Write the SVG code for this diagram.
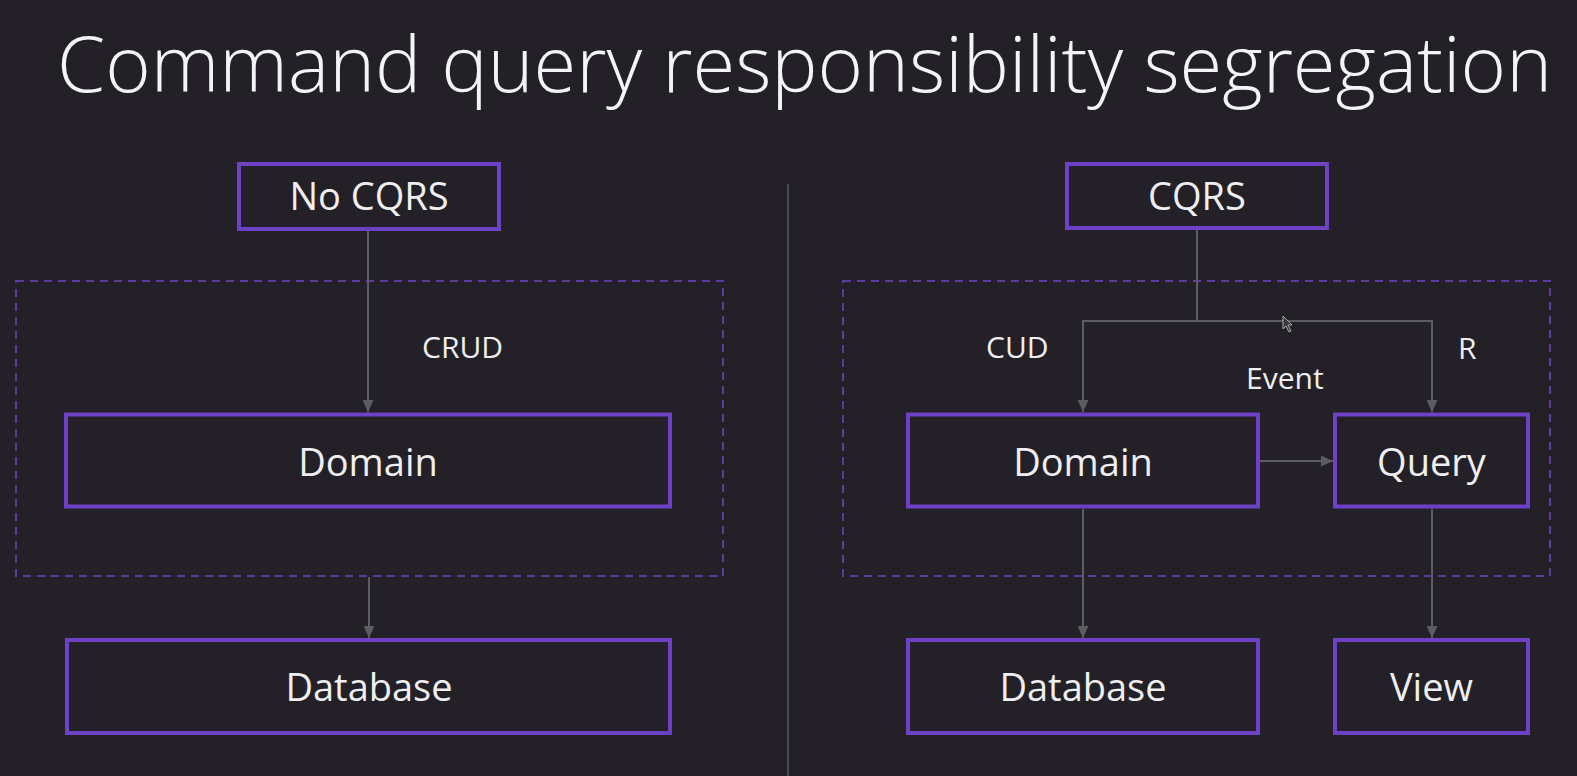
<svg xmlns="http://www.w3.org/2000/svg" width="1577" height="776" viewBox="0 0 1577 776">
  <style>
    .node { fill: none; stroke: #6d41c6; stroke-width: 4; }
    .group { fill: none; stroke: #5b3b9f; stroke-width: 2; stroke-dasharray: 8 6; }
    .edge { fill: none; stroke: #5d5c62; stroke-width: 2; }
    .lbl { font-family: "Open Sans", "Noto Sans", "DejaVu Sans", sans-serif; fill: #efeef0; }
    .nlbl { font-size: 38px; text-anchor: middle; }
    .elbl { font-size: 30px; }
    .title { font-family: "Open Sans", "Noto Sans", sans-serif; font-weight: 300; font-size: 77px; fill: #f4f4f6; }
  </style>
  <defs>
    <marker id="arrow" markerUnits="userSpaceOnUse" markerWidth="12" markerHeight="11" refX="12" refY="5.5" orient="auto">
      <path d="M0,0 L12,5.5 L0,11 Z" fill="#5d5c62"/>
    </marker>
  </defs>
  <rect x="0" y="0" width="1577" height="776" fill="#232127"/>

  <text class="title" x="57" y="92" textLength="1495" lengthAdjust="spacingAndGlyphs">Command query responsibility segregation</text>

  <line x1="788" y1="184" x2="788" y2="776" stroke="#4a494f" stroke-width="2"/>

  <g id="group-left"><rect class="group" x="16" y="281" width="707" height="295"/></g>
  <g id="group-right"><rect class="group" x="843" y="281" width="707" height="295"/></g>

  <g id="connectors">
    <line class="edge" x1="368" y1="231" x2="368" y2="412" marker-end="url(#arrow)"/>
    <line class="edge" x1="369" y1="577" x2="369" y2="638" marker-end="url(#arrow)"/>
    <line class="edge" x1="1197" y1="230" x2="1197" y2="321"/>
    <polyline class="edge" points="1197,321 1083,321 1083,412" marker-end="url(#arrow)"/>
    <polyline class="edge" points="1197,321 1432,321 1432,412" marker-end="url(#arrow)"/>
    <line class="edge" x1="1260" y1="461" x2="1333" y2="461" marker-end="url(#arrow)"/>
    <line class="edge" x1="1083" y1="509" x2="1083" y2="638" marker-end="url(#arrow)"/>
    <line class="edge" x1="1432" y1="509" x2="1432" y2="638" marker-end="url(#arrow)"/>
    <text class="lbl elbl" x="422" y="358">CRUD</text>
    <text class="lbl elbl" x="986" y="358">CUD</text>
    <text class="lbl elbl" x="1246" y="389">Event</text>
    <text class="lbl elbl" x="1458" y="359">R</text>
  </g>

  <g id="no-cqrs">
    <rect class="node" x="239" y="164" width="260" height="65"/>
    <text class="lbl nlbl" x="369" y="210">No CQRS</text>
  </g>
  <g id="domain-left">
    <rect class="node" x="66" y="414.5" width="604" height="92"/>
    <text class="lbl nlbl" x="368" y="476">Domain</text>
  </g>
  <g id="database-left">
    <rect class="node" x="67" y="640" width="603" height="93"/>
    <text class="lbl nlbl" x="369" y="701">Database</text>
  </g>

  <g id="cqrs">
    <rect class="node" x="1067" y="164" width="260" height="64"/>
    <text class="lbl nlbl" x="1197" y="210">CQRS</text>
  </g>
  <g id="domain-right">
    <rect class="node" x="908" y="414.5" width="350" height="92"/>
    <text class="lbl nlbl" x="1083" y="476">Domain</text>
  </g>
  <g id="query">
    <rect class="node" x="1335" y="414.5" width="193" height="92"/>
    <text class="lbl nlbl" x="1431.5" y="476">Query</text>
  </g>
  <g id="database-right">
    <rect class="node" x="908" y="640" width="350" height="93"/>
    <text class="lbl nlbl" x="1083" y="701">Database</text>
  </g>
  <g id="view">
    <rect class="node" x="1335" y="640" width="193" height="93"/>
    <text class="lbl nlbl" x="1431.5" y="701">View</text>
  </g>

  <path d="M1283,316 L1283,329 L1286,326 L1289,332 L1291,331 L1288,325 L1292,325 Z" fill="#3a393e" stroke="#a9a8ad" stroke-width="1" stroke-linejoin="round"/>
</svg>
